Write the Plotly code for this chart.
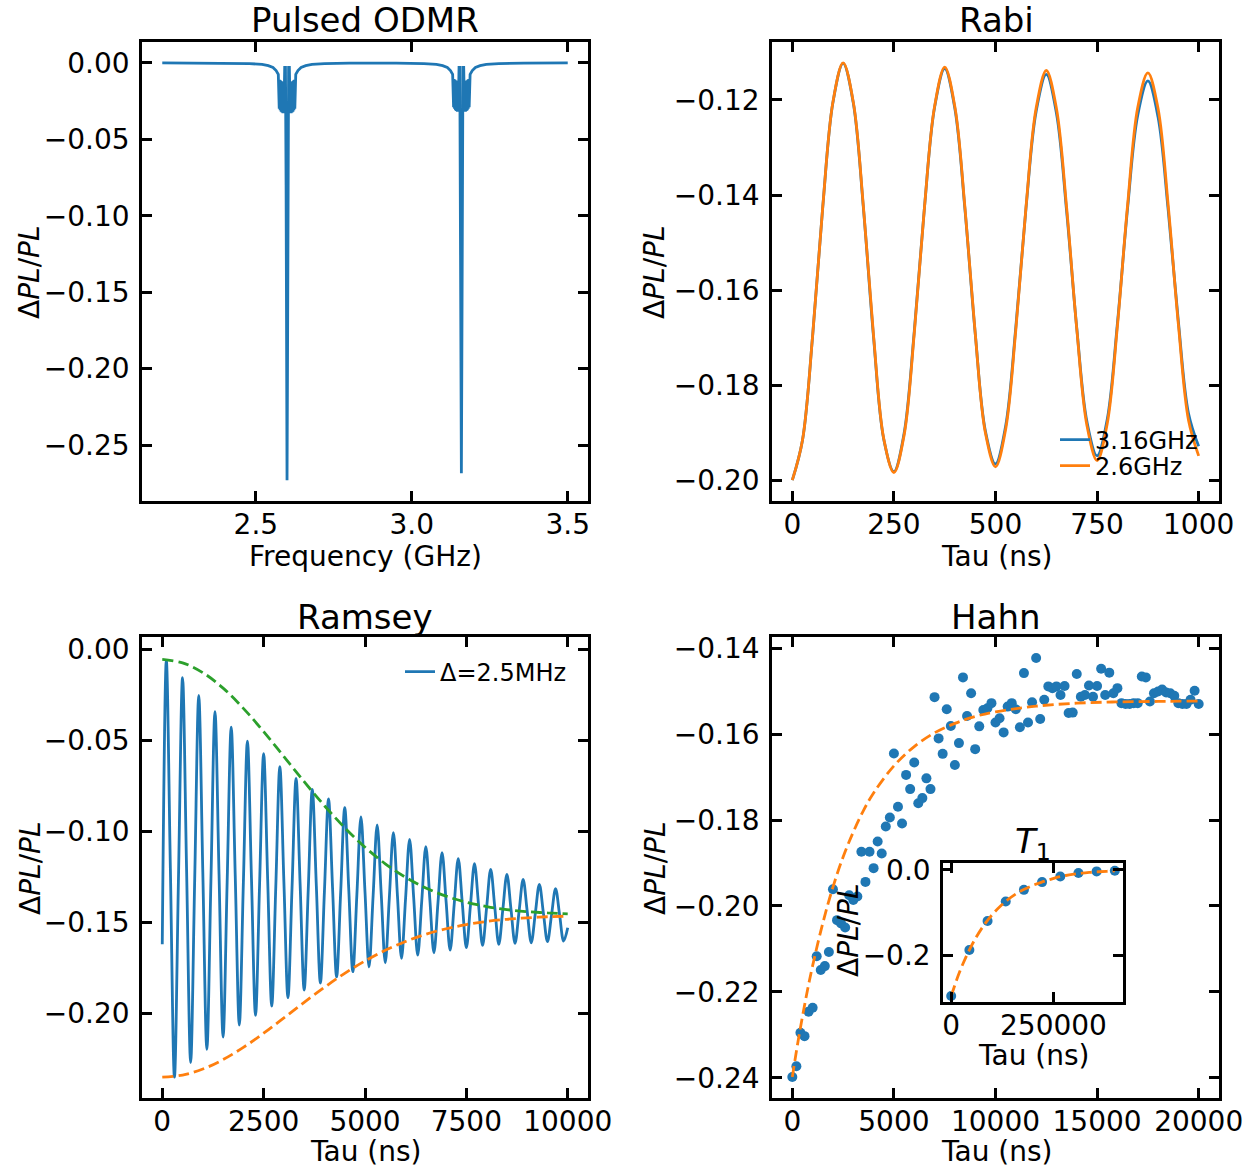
import numpy as np
import plotly.graph_objects as go

W, H = 1253, 1171
BLUE, ORANGE, GREEN = "#1f77b4", "#ff7f0e", "#2ca02c"
FONT = "DejaVu Sans"

# ---------------- data ----------------
# Pulsed ODMR
odmr_freq = [2.200, 2.300, 2.400, 2.480, 2.520, 2.540, 2.555, 2.565, 2.572,
             2.575, 2.5765, 2.578, 2.5795, 2.581, 2.5825, 2.584, 2.5855, 2.587, 2.5885, 2.590,
             2.5925, 2.595, 2.597, 2.5985, 2.600, 2.6015, 2.603, 2.605, 2.6075,
             2.610, 2.6115, 2.613, 2.6145, 2.616, 2.6175, 2.619, 2.6205, 2.622, 2.6235, 2.625,
             2.628, 2.635, 2.645, 2.660, 2.680, 2.720, 2.800, 2.880,
             2.950, 3.039, 3.079, 3.099, 3.114, 3.124, 3.131,
             3.134, 3.1355, 3.137, 3.1385, 3.140, 3.1415, 3.143, 3.1445, 3.146, 3.1475, 3.149,
             3.1515, 3.154, 3.156, 3.1575, 3.159, 3.1605, 3.162, 3.164, 3.1665,
             3.169, 3.1705, 3.172, 3.1735, 3.175, 3.1765, 3.178, 3.1795, 3.181, 3.1825, 3.184,
             3.187, 3.194, 3.204, 3.219, 3.239, 3.279, 3.359, 3.450, 3.500]
odmr_vals = [0.0000, -0.0001, -0.0002, -0.0005, -0.0010, -0.0018, -0.0030, -0.0050, -0.0075,
             -0.0300, -0.0110, -0.0310, -0.0115, -0.0320, -0.0120, -0.0325, -0.0125, -0.0330, -0.0130, -0.0330,
             -0.0030, -0.0030, -0.0800, -0.2000, -0.2730, -0.2000, -0.0800, -0.0030, -0.0030,
             -0.0330, -0.0130, -0.0330, -0.0125, -0.0325, -0.0120, -0.0320, -0.0115, -0.0310, -0.0110, -0.0300,
             -0.0075, -0.0050, -0.0030, -0.0018, -0.0010, -0.0005, -0.0002, -0.0001,
             -0.0002, -0.0005, -0.0010, -0.0018, -0.0030, -0.0050, -0.0075,
             -0.0290, -0.0105, -0.0300, -0.0110, -0.0310, -0.0115, -0.0315, -0.0120, -0.0320, -0.0125, -0.0320,
             -0.0030, -0.0030, -0.0800, -0.1950, -0.2685, -0.1950, -0.0800, -0.0030, -0.0030,
             -0.0320, -0.0125, -0.0320, -0.0120, -0.0315, -0.0115, -0.0310, -0.0110, -0.0300, -0.0105, -0.0290,
             -0.0075, -0.0050, -0.0030, -0.0018, -0.0010, -0.0005, -0.0002, -0.0001, 0.0000]

# Rabi
rabi_tau = np.arange(0, 1001, 25)
rabi_316 = [-0.2000, -0.1916, -0.1696, -0.1424, -0.1205, -0.1123, -0.1206, -0.1428, -0.1700, -0.1914,
            -0.1982, -0.1902, -0.1688, -0.1428, -0.1216, -0.1134, -0.1218, -0.1432, -0.1690, -0.1896,
            -0.1966, -0.1886, -0.1678, -0.1428, -0.1224, -0.1146, -0.1228, -0.1434, -0.1680, -0.1877,
            -0.1949, -0.1872, -0.1670, -0.1428, -0.1232, -0.1160, -0.1236, -0.1432, -0.1666, -0.1860,
            -0.1929]
rabi_26 = [-0.2000, -0.1916, -0.1696, -0.1424, -0.1204, -0.1122, -0.1204, -0.1425, -0.1697, -0.1913,
           -0.1984, -0.1906, -0.1692, -0.1428, -0.1214, -0.1131, -0.1214, -0.1428, -0.1690, -0.1900,
           -0.1972, -0.1893, -0.1684, -0.1426, -0.1217, -0.1138, -0.1218, -0.1426, -0.1682, -0.1885,
           -0.1959, -0.1881, -0.1676, -0.1422, -0.1216, -0.1143, -0.1218, -0.1422, -0.1672, -0.1874,
           -0.1949]

# Ramsey
ramsey_tau = np.arange(0, 10001, 100)
ramsey_vals = [
    -0.1620, -0.0060, -0.1205, -0.2350,
    -0.1253, -0.0156, -0.1214, -0.2271,
    -0.1262, -0.0253, -0.1226, -0.2198,
    -0.1270, -0.0342, -0.1236, -0.2130,
    -0.1279, -0.0427, -0.1246, -0.2064,
    -0.1284, -0.0504, -0.1258, -0.2011,
    -0.1292, -0.0573, -0.1267, -0.1960,
    -0.1303, -0.0645, -0.1280, -0.1914,
    -0.1312, -0.0709, -0.1291, -0.1872,
    -0.1321, -0.0769, -0.1301, -0.1833,
    -0.1327, -0.0821, -0.1311, -0.1800,
    -0.1335, -0.0870, -0.1321, -0.1771,
    -0.1346, -0.0921, -0.1333, -0.1745,
    -0.1355, -0.0965, -0.1344, -0.1722,
    -0.1365, -0.1007, -0.1353, -0.1698,
    -0.1371, -0.1044, -0.1362, -0.1680,
    -0.1382, -0.1084, -0.1376, -0.1667,
    -0.1392, -0.1117, -0.1385, -0.1652,
    -0.1401, -0.1150, -0.1395, -0.1639,
    -0.1409, -0.1178, -0.1402, -0.1626,
    -0.1418, -0.1209, -0.1415, -0.1621,
    -0.1429, -0.1236, -0.1426, -0.1615,
    -0.1440, -0.1264, -0.1438, -0.1612,
    -0.1452, -0.1291, -0.1449, -0.1606,
    -0.1461, -0.1315, -0.1459, -0.1603,
    -0.1530]
env_tau = np.arange(0, 10001, 500)
env_upper = [-0.0055, -0.0074, -0.0128, -0.0213, -0.0324, -0.0452, -0.0589, -0.0727, -0.0859, -0.0980,
             -0.1087, -0.1178, -0.1252, -0.1311, -0.1356, -0.1389, -0.1413, -0.1430, -0.1441, -0.1448,
             -0.1453]
env_lower = [-0.2350, -0.2339, -0.2306, -0.2254, -0.2187, -0.2109, -0.2025, -0.1939, -0.1857, -0.1780,
             -0.1712, -0.1653, -0.1605, -0.1565, -0.1535, -0.1512, -0.1495, -0.1483, -0.1475, -0.1469,
             -0.1466]

# Hahn
hahn_tau = np.arange(0, 20001, 200)
hahn_vals = [
    -0.2398, -0.2373, -0.2295, -0.2303, -0.2246, -0.2237, -0.2117, -0.2149, -0.2140, -0.2107,
    -0.1961, -0.2033, -0.2041, -0.2050, -0.1975, -0.1986, -0.1978, -0.1874, -0.1944, -0.1874,
    -0.1912, -0.1850, -0.1878, -0.1815, -0.1794, -0.1645, -0.1769, -0.1808, -0.1695, -0.1728,
    -0.1666, -0.1761, -0.1749, -0.1703, -0.1728, -0.1514, -0.1610, -0.1646, -0.1542, -0.1581,
    -0.1672, -0.1621, -0.1468, -0.1558, -0.1505, -0.1635, -0.1582, -0.1544, -0.1540, -0.1528,
    -0.1573, -0.1563, -0.1596, -0.1536, -0.1528, -0.1542, -0.1584, -0.1458, -0.1573, -0.1526,
    -0.1423, -0.1565, -0.1520, -0.1489, -0.1493, -0.1489, -0.1509, -0.1488, -0.1551, -0.1550,
    -0.1460, -0.1513, -0.1509, -0.1487, -0.1513, -0.1488, -0.1448, -0.1509, -0.1457, -0.1505,
    -0.1493, -0.1528, -0.1530, -0.1530, -0.1528, -0.1528, -0.1466, -0.1468, -0.1524, -0.1505,
    -0.1501, -0.1496, -0.1503, -0.1505, -0.1511, -0.1528, -0.1530, -0.1530, -0.1520, -0.1499,
    -0.1530]
hahn_fit_tau = [0, 250, 500, 750, 1000, 1500, 2000, 2500, 3000, 3500, 4000, 5000, 6000, 7000,
                8000, 9000, 10000, 12000, 14000, 16000, 18000, 20000]
hahn_fit_vals = [-0.2398, -0.2324, -0.2257, -0.2195, -0.2139, -0.2040, -0.1956, -0.1886, -0.1828,
                 -0.1778, -0.1737, -0.1674, -0.1629, -0.1597, -0.1575, -0.1559, -0.1548, -0.1535,
                 -0.1528, -0.1525, -0.1524, -0.1523]

# T1 inset
t1_tau = [0, 44444, 88889, 133333, 177778, 222222, 266667, 311111, 355556, 400000]
t1_vals = [-0.2957, -0.1882, -0.1200, -0.0745, -0.0471, -0.0290, -0.0157, -0.0078, -0.0039, -0.0024]
t1_fit_tau = [0, 20000, 40000, 60000, 80000, 100000, 120000, 140000, 160000, 180000, 200000,
              220000, 240000, 260000, 280000, 300000, 320000, 340000, 360000, 380000, 400000]
t1_fit_vals = [-0.2960, -0.2410, -0.1965, -0.1600, -0.1300, -0.1055, -0.0855, -0.0690, -0.0555,
               -0.0450, -0.0365, -0.0295, -0.0235, -0.0175, -0.0135, -0.0105, -0.0080, -0.0062,
               -0.0047, -0.0036, -0.0028]

# ---------------- figure ----------------
fig = go.Figure()
LW = 2.8
DASH = "11px,5px"

fig.add_trace(go.Scatter(x=odmr_freq, y=odmr_vals, mode="lines", line=dict(color=BLUE, width=LW),
                         xaxis="x", yaxis="y", showlegend=False))

fig.add_trace(go.Scatter(x=rabi_tau, y=rabi_316, mode="lines", name="3.16GHz",
                         line=dict(color=BLUE, width=LW, shape="spline"),
                         xaxis="x2", yaxis="y2", legend="legend"))
fig.add_trace(go.Scatter(x=rabi_tau, y=rabi_26, mode="lines", name="2.6GHz",
                         line=dict(color=ORANGE, width=LW, shape="spline"),
                         xaxis="x2", yaxis="y2", legend="legend2"))

fig.add_trace(go.Scatter(x=ramsey_tau, y=ramsey_vals, mode="lines", name="Δ=2.5MHz",
                         line=dict(color=BLUE, width=LW, shape="spline"),
                         xaxis="x3", yaxis="y3", legend="legend3"))
fig.add_trace(go.Scatter(x=env_tau, y=env_lower, mode="lines", showlegend=False,
                         line=dict(color=ORANGE, width=LW, dash=DASH, shape="spline"),
                         xaxis="x3", yaxis="y3"))
fig.add_trace(go.Scatter(x=env_tau, y=env_upper, mode="lines", showlegend=False,
                         line=dict(color=GREEN, width=LW, dash=DASH, shape="spline"),
                         xaxis="x3", yaxis="y3"))

fig.add_trace(go.Scatter(x=hahn_tau, y=hahn_vals, mode="markers", showlegend=False,
                         marker=dict(color=BLUE, size=10, line=dict(width=0)),
                         xaxis="x4", yaxis="y4"))
fig.add_trace(go.Scatter(x=hahn_fit_tau, y=hahn_fit_vals, mode="lines", showlegend=False,
                         line=dict(color=ORANGE, width=LW, dash=DASH, shape="spline"),
                         xaxis="x4", yaxis="y4"))

fig.add_trace(go.Scatter(x=t1_tau, y=t1_vals, mode="markers", showlegend=False,
                         marker=dict(color=BLUE, size=10, line=dict(width=0)),
                         xaxis="x5", yaxis="y5"))
fig.add_trace(go.Scatter(x=t1_fit_tau, y=t1_fit_vals, mode="lines", showlegend=False,
                         line=dict(color=ORANGE, width=LW, dash=DASH, shape="spline"),
                         xaxis="x5", yaxis="y5"))


def axis(domain, rng, tickvals, fmt, anchor, standoff):
    return dict(domain=domain, range=rng, tickvals=tickvals, tickformat=fmt, anchor=anchor,
                showline=True, linecolor="black", linewidth=2.5, mirror="ticks",
                ticks="inside", ticklen=10, tickwidth=2.5, tickcolor="black",
                showgrid=False, zeroline=False, ticklabelstandoff=standoff, automargin=False,
                tickfont=dict(family=FONT, size=28, color="black"))


c1 = [142 / W, 588 / W]
c2 = [772 / W, 1219 / W]
r1 = [1 - 501 / H, 1 - 42 / H]
r2 = [1 - 1098 / H, 1 - 637 / H]
ix = [943 / W, 1123 / W]
iy = [1 - 1002 / H, 1 - 863 / H]

fig.update_layout(
    width=W, height=H, margin=dict(l=0, r=0, t=0, b=0, autoexpand=False),
    paper_bgcolor="white", plot_bgcolor="white",
    font=dict(family=FONT, color="black"),
    xaxis=axis(c1, [2.135, 3.565], [2.5, 3.0, 3.5], ".1f", "y", -3),
    yaxis=axis(r1, [-0.2866, 0.01365], [0, -0.05, -0.10, -0.15, -0.20, -0.25], ".2f", "x", 4),
    xaxis2=axis(c2, [-50, 1050], [0, 250, 500, 750, 1000], "d", "y2", -3),
    yaxis2=axis(r1, [-0.2044, -0.1078], [-0.12, -0.14, -0.16, -0.18, -0.20], ".2f", "x2", 4),
    xaxis3=axis(c1, [-500, 10500], [0, 2500, 5000, 7500, 10000], "d", "y3", -3),
    yaxis3=axis(r2, [-0.2465, 0.0068], [0, -0.05, -0.10, -0.15, -0.20], ".2f", "x3", 4),
    xaxis4=axis(c2, [-1000, 21000], [0, 5000, 10000, 15000, 20000], "d", "y4", -3),
    yaxis4=axis(r2, [-0.2447, -0.1374], [-0.14, -0.16, -0.18, -0.20, -0.22, -0.24], ".2f", "x4", 4),
    xaxis5=axis(ix, [-20000, 420000], [0, 250000], "d", "y5", -3),
    yaxis5=axis(iy, [-0.3099, 0.0158], [0, -0.2], ".1f", "x5", 4),
    legend=dict(x=1055 / W, y=1 - 440 / H, xanchor="left", yanchor="middle",
                bgcolor="rgba(0,0,0,0)", font=dict(family=FONT, size=24, color="black")),
    legend2=dict(x=1055 / W, y=1 - 466 / H, xanchor="left", yanchor="middle",
                 bgcolor="rgba(0,0,0,0)", font=dict(family=FONT, size=24, color="black")),
    legend3=dict(x=400 / W, y=1 - 672 / H, xanchor="left", yanchor="middle",
                 bgcolor="rgba(0,0,0,0)", font=dict(family=FONT, size=24, color="black")),
)

ann = []


def text(s, x, y, size, angle=0):
    ann.append(dict(text=s, x=x / W, y=1 - y / H, xref="paper", yref="paper",
                    xanchor="center", yanchor="middle", showarrow=False, textangle=angle,
                    font=dict(family=FONT, size=size, color="black")))


YL = "Δ<i>PL</i>/<i>PL</i>"
text("Pulsed ODMR", 365, 20, 34)
text("Rabi", 996, 20, 34)
text("Ramsey", 365, 617, 34)
text("Hahn", 996, 617, 34)
text("Frequency (GHz)", 365, 556, 28)
text("Tau (ns)", 996, 556, 28)
text("Tau (ns)", 365, 1151, 28)
text("Tau (ns)", 996, 1151, 28)
text(YL, 30, 272, 28, -90)
text(YL, 655, 272, 28, -90)
text(YL, 30, 868, 28, -90)
text(YL, 655, 868, 28, -90)
text("<i>T</i><sub>1</sub>", 1033, 843, 34)
text(YL, 848, 930, 28, -90)
text("Tau (ns)", 1033, 1055, 28)
fig.update_layout(annotations=ann)

fig.write_html("out.html")
